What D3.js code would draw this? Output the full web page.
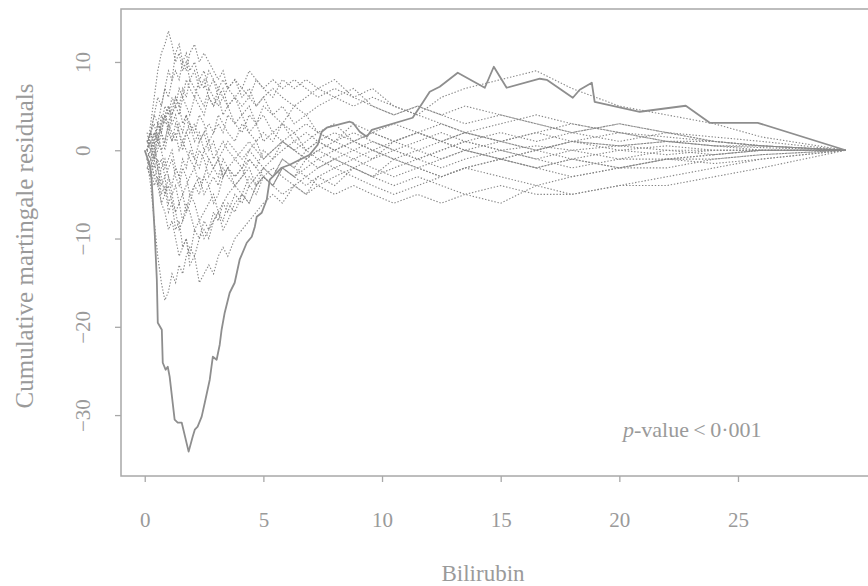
<!DOCTYPE html>
<meta charset="utf-8">
<html>
  <head>
    <script src="https://d3js.org/d3.v7.min.js"></script>
    <style>
      body { margin: 0; background: #fff; }
      text { font-family: "Liberation Serif", "Times New Roman", serif; fill: #9a9a9a; }
    </style>
  </head>
  <body>
  <script>

// observed cumulative martingale residuals vs bilirubin (solid)
const obs_x = [0,0.21,0.29,0.34,0.42,0.51,0.55,0.72,0.76,0.88,0.97,1.05,1.26,1.39,1.56,1.85,2.02,2.11,2.23,2.40,2.53,2.74,2.87,3.03,3.16,3.24,3.37,3.58,3.79,4.00,4.30,4.51,4.64,4.72,4.93,5.14,5.27,5.48,5.77,6.11,6.53,6.95,7.29,7.46,7.67,8.64,8.77,9.06,9.36,9.57,11.29,11.71,12.01,12.43,13.19,14.33,14.71,15.25,16.65,16.94,18.04,18.33,18.84,18.96,20.86,22.80,23.81,25.83,29.54];
const obs_y = [0,-1.64,-3.34,-5.61,-9.34,-14.67,-19.54,-20.33,-24.07,-24.86,-24.52,-25.65,-30.52,-30.86,-30.86,-34.14,-32.45,-31.65,-31.31,-30.18,-28.60,-25.99,-23.39,-23.73,-22.03,-20.33,-18.40,-16.14,-15.01,-12.40,-10.48,-9.80,-8.66,-7.53,-7.08,-5.61,-3.34,-2.77,-1.98,-1.64,-1.08,-0.51,0.62,2.10,2.55,3.23,3.11,2.10,1.53,2.32,3.68,5.38,6.63,7.19,8.78,7.08,9.46,7.08,8.10,7.98,5.95,6.85,7.64,5.49,4.36,5.04,3.11,3.11,0];

// simulated paths (dotted), all on the same bilirubin grid
const sim_x = [0.1,0.25,0.4,0.55,0.7,0.85,1.0,1.15,1.3,1.45,1.6,1.75,1.9,2.1,2.3,2.5,2.7,2.9,3.1,3.3,3.5,3.8,4.1,4.4,4.7,5.0,5.4,5.8,6.3,6.8,7.3,8.0,8.8,9.6,10.5,11.5,12.5,13.5,15,16.5,18,20,22,24,26,29.54];
const sim1  = [0,3,6,9,11,12,13.5,12,10,11, 9,10,8,9,7,8,6,5,6,4, 5,3,4,2,3,1,2,1,2,0, 1,2,1,0,1,2,1,2,1,0, 1,0.5,1,0.5,0.3,0];
const sim2  = [-1,-4,-8,-12,-15,-17,-16,-14,-15,-13, -14,-12,-11,-12,-10,-9,-10,-8,-7,-8, -6,-7,-5,-6,-4,-3,-4,-2,-3,-1, -2,-1,-2,-1,0,-1,0,1,0,-1, 0,-1,0,-0.5,0,0];
const sim3  = [0,-1,-3,-2,-5,-4,-7,-6,-9,-8, -11,-10,-13,-12,-15,-14,-13,-14,-12,-11, -12,-10,-9,-8,-7,-6,-5,-6,-4,-5, -3,-4,-2,-3,-1,-2,-1,0,-1,-2, -1,-2,-1,-0.5,0,0];
const sim4  = [1,2,4,3,5,7,6,8,9,8, 10,9,11,12,10,11,10,9,8,9, 7,8,6,7,5,6,4,5,3,4, 2,3,1,2,1,0,1,2,1,0, 1,0.5,1,0.5,0,0];
const sim5  = [-1,0,2,1,3,5,4,6,5,7, 6,8,7,6,8,7,9,8,7,8, 7,8,7,9,8,7,8,7,8,7, 6,7,6,5,4,5,4,3,4,3, 2,3,2,1,0.5,0];
const sim6  = [0,1,-1,0,2,1,3,2,1,3, 2,4,3,2,4,3,1,2,3,2, 4,3,2,4,3,5,4,3,5,4, 5,6,5,6,5,4,6,7,8,9, 7,5,4,3,1.5,0];
const sim7  = [0,-1,1,-2,-1,-3,-2,-1,-3,-4, -2,-3,-5,-4,-3,-5,-4,-3,-4,-2, -3,-4,-3,-2,-4,-3,-4,-5,-4,-5, -4,-5,-4,-5,-6,-5,-6,-5,-6,-4, -5,-4,-3,-2,-1,0];
const sim8  = [1,2,3,1,4,3,5,4,6,5, 3,4,2,3,1,2,0,1,-1,0, 1,0,-1,0,1,-1,0,1,0,1, 2,1,2,1,0,1,2,1,2,1, 2,1,2,1,0.5,0];
const sim9  = [-1,-2,-4,-3,-6,-7,-9,-8,-10,-12, -11,-10,-12,-9,-10,-8,-9,-7,-8,-6, -7,-5,-6,-4,-5,-3,-4,-2,-3,-2, -1,-2,-1,0,-1,0,-1,0,-1,-2, -1,-2,-1,-1,-0.5,0];
const sim10 = [1,2,0,3,2,4,5,3,4,2, 1,0,-1,-2,0,-1,-3,-2,-1,-3, -2,-4,-3,-1,-2,0,-1,1,0,-1, 0,1,0,-1,1,2,1,0,-1,0, 1,0,0.5,0,0,0];
const sim11 = [-2,-1,-3,-4,-2,-1,-3,-5,-4,-6, -5,-7,-6,-4,-5,-3,-4,-6,-5,-3, -2,-1,-2,0,-1,-2,-1,0,1,0, -1,0,-1,-2,-3,-2,-3,-2,-1,-2, -3,-2,-1,-1.5,-1,0];
const sim12 = [0,2,4,6,5,7,9,8,11,12, 10,11,9,10,8,9,7,8,6,7, 5,6,4,5,3,4,2,3,1,2, 1,0,1,2,3,2,3,2,1,2, 3,2,1.5,1,0.5,0];
const sim13 = [-1,-2,0,-2,-4,-3,-6,-5,-7,-6, -8,-7,-5,-6,-8,-7,-6,-5,-7,-6, -5,-4,-5,-3,-4,-2,-3,-1,-2,0, 1,0,1,0,-1,-2,-3,-2,-1,0, -1,0,-0.5,0,0,0];
const sim14 = [0,1,2,1,3,4,2,4,5,4, 6,5,4,6,5,4,6,5,7,6, 5,6,7,6,8,7,6,8,7,8, 7,8,6,7,5,4,3,2,3,4, 3,2,1,1,0.5,0];
const sim15 = [1,0,-2,-1,-3,-5,-4,-6,-7,-9, -8,-6,-7,-9,-8,-10,-9,-8,-7,-9, -8,-6,-5,-6,-4,-3,-4,-2,-3,-4, -3,-2,-3,-4,-5,-4,-3,-2,-3,-4, -3,-2,-2,-1,-0.5,0];
const sim16 = [0,1,-1,2,0,1,3,1,2,0, 1,2,3,1,2,0,1,-1,0,1, 0,-1,0,1,0,-1,0,1,0,-1, 0,-1,0,1,0,-1,0,1,0,0.5, 0,0.5,0,0,0,0];
const sim17 = [-1,0,-1,1,0,-2,-1,0,-2,-3, -1,-2,0,-1,-2,0,-1,-2,-1,-3, -2,-3,-2,-1,-2,-3,-2,-3,-4,-3, -4,-3,-2,-3,-4,-3,-4,-5,-4,-5, -5,-4,-4,-3,-2,0];
const sim18 = [0,2,1,3,2,4,3,5,6,5, 7,6,8,7,6,5,7,6,5,6, 7,6,5,6,5,6,7,6,5,6, 7,6,7,5,4,5,4,5,4,3, 2,3,2,1.5,1,0];
const sim19 = [2,0,1,3,2,0,2,1,3,2, 0,2,1,-1,1,2,3,2,4,3, 2,1,3,2,1,2,1,3,2,3, 2,1,3,2,1,2,1,0,1,2, 1,2,1,0.5,0.5,0];
const sim20 = [-2,-3,-1,-4,-6,-5,-3,-4,-2,-3, -5,-4,-3,-2,-4,-3,-1,-2,-3,-1, -2,-3,-2,-4,-3,-2,-3,-1,-2,-3, -2,-1,-2,-3,-2,-1,-2,-1,0,-1, -2,-1,-1,-0.5,0,0];
const sims = [sim1,sim2,sim3,sim4,sim5,sim6,sim7,sim8,sim9,sim10,sim11,sim12,sim13,sim14,sim15,sim16,sim17,sim18,sim19,sim20];

const x_ticks = [0,5,10,15,20,25],
      y_ticks = [-30,-20,-10,0,10];

const width = 868, height = 586,
      xlim = [-1.0, 30.9], ylim = [-36.9, 16.0],
      grey = '#9a9a9a';

const svg = d3.select('body').append('svg')
  .attr('width', width)
  .attr('height', height);

const x = d3.scaleLinear().domain(xlim).range([121, 878]),
      y = d3.scaleLinear().domain(ylim).range([476, 9]);

const line = d3.line().x(d => x(d[0])).y(d => y(d[1]));

// simulated paths
svg.append('g')
  .selectAll('path')
  .data(sims)
  .enter()
    .append('path')
      .attr('d', s => line(sim_x.map((v, i) => [v, s[i]])))
      .style('fill', 'none')
      .style('stroke', '#878787')
      .style('stroke-width', 1.1)
      .style('stroke-dasharray', '1.4,1.8');

// observed path
svg.append('path')
  .attr('d', line(obs_x.map((v, i) => [v, obs_y[i]])))
  .style('fill', 'none')
  .style('stroke', '#8e8e8e')
  .style('stroke-width', 1.8)
  .style('stroke-linejoin', 'round');

// box
svg.append('rect')
  .attr('x', x(xlim[0])).attr('y', y(ylim[1]))
  .attr('width', x(xlim[1]) - x(xlim[0]))
  .attr('height', y(ylim[0]) - y(ylim[1]))
  .style('fill', 'none')
  .style('stroke', '#a8a8a8')
  .style('stroke-width', 1.5);

// x axis
const xaxis = svg.append('g')
  .attr('transform', 'translate(0,' + y(ylim[0]) + ')')
  .call(d3.axisBottom(x).tickValues(x_ticks).tickSize(6).tickSizeOuter(0).tickPadding(30));
xaxis.select('.domain').remove();
xaxis.selectAll('line').style('stroke', '#a8a8a8').style('stroke-width', 1.3);
xaxis.selectAll('text')
  .style('font-size', '21px')
  .style('font-family', '"Liberation Serif", serif')
  .attr('fill', grey);

// y axis, labels parallel to the axis
const yaxis = svg.append('g')
  .attr('transform', 'translate(' + x(xlim[0]) + ',0)')
  .call(d3.axisLeft(y).tickValues(y_ticks).tickSize(6).tickSizeOuter(0).tickFormat(d => d < 0 ? '\u2212' + (-d) : d));
yaxis.select('.domain').remove();
yaxis.selectAll('line').style('stroke', '#a8a8a8').style('stroke-width', 1.3);
yaxis.selectAll('text')
  .attr('x', 0).attr('dy', 0)
  .attr('transform', 'translate(-31,0) rotate(-90)')
  .attr('text-anchor', 'middle')
  .style('font-size', '21px')
  .style('font-family', '"Liberation Serif", serif')
  .attr('fill', grey);

// axis titles
svg.append('text')
  .attr('x', 483).attr('y', 581)
  .attr('text-anchor', 'middle')
  .style('font-size', '23px')
  .text('Bilirubin');

svg.append('text')
  .attr('transform', 'translate(33,246) rotate(-90)')
  .attr('text-anchor', 'middle')
  .style('font-size', '25px')
  .text('Cumulative martingale residuals');

const pv = svg.append('text')
  .attr('x', 623).attr('y', 437)
  .style('font-size', '22px');
pv.append('tspan').style('font-style', 'italic').text('p');
pv.append('tspan').text('-value\u2009<\u20090\u00b7001');

  </script>
  </body>
</html>
